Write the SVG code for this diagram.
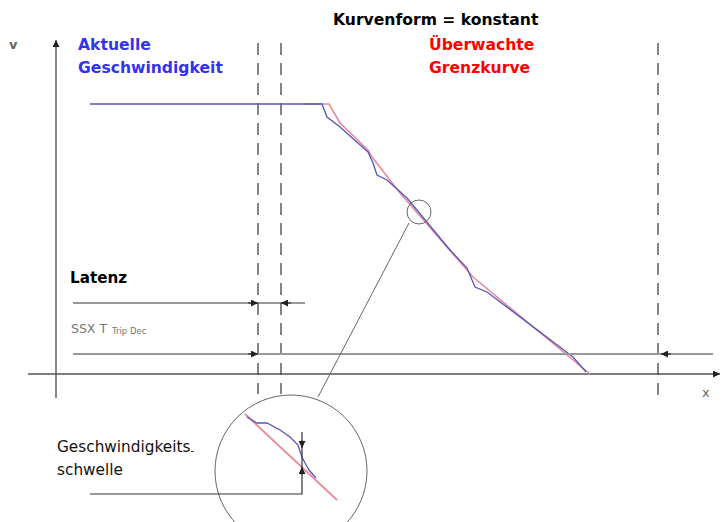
<svg xmlns="http://www.w3.org/2000/svg" width="721" height="522" viewBox="0 0 721 522">
<defs>
<style>
.t{font-family:"DejaVu Sans",Verdana,sans-serif}
.b{font-weight:bold;font-size:15.6px}
.ax{stroke:#555;stroke-width:1.4;fill:none}
.dash{stroke:#444;stroke-width:1.3;stroke-dasharray:12 8;fill:none}
.dim{stroke:#333;stroke-width:1.2;fill:none}
.blue{stroke:#5555bb;stroke-width:1.3;fill:none}
.red{stroke:#e88a9a;stroke-width:1.6;fill:none}
.thin{stroke:#666;stroke-width:1;fill:none}
</style>
<marker id="ah" viewBox="0 0 10 10" refX="10" refY="5" markerWidth="7" markerHeight="7" markerUnits="userSpaceOnUse" orient="auto-start-reverse">
<path d="M0,0 L10,5 L0,10 Z" fill="#222"/>
</marker>
</defs>
<rect width="721" height="522" fill="#fff"/>

<g id="axes">
<line class="ax" x1="56" y1="398" x2="56" y2="40" marker-end="url(#ah)"/>
<line class="ax" x1="28" y1="374" x2="720" y2="374" marker-end="url(#ah)"/>
<text class="t" x="9" y="49" font-size="13" font-weight="bold" fill="#666">v</text>
<text class="t" x="702" y="397" font-size="13" fill="#666">x</text>
</g>

<g id="dashed">
<line class="dash" x1="258" y1="43" x2="258" y2="394"/>
<line class="dash" x1="281" y1="43" x2="281" y2="394"/>
<line class="dash" x1="658" y1="43" x2="658" y2="396"/>
</g>

<g id="labels">
<text class="t b" x="333" y="25" fill="#000">Kurvenform = konstant</text>
<text class="t b" x="78" y="50" fill="#3333ee">Aktuelle</text>
<text class="t b" x="78" y="73" fill="#3333ee">Geschwindigkeit</text>
<text class="t b" x="429" y="50" fill="#ff0000">Überwachte</text>
<text class="t b" x="429" y="73" fill="#ff0000">Grenzkurve</text>
<text class="t" x="70" y="283" font-size="15.2" font-weight="bold" fill="#000">Latenz</text>
<text class="t" x="71" y="333" font-size="12.5" fill="#777">SSX T<tspan font-size="8.5" dx="5" dy="1">Trip Dec</tspan></text>
<text class="t" x="57" y="452" font-size="15.3" fill="#111">Geschwindigkeits<tspan dy="2" font-size="10">-</tspan></text>
<text class="t" x="57" y="475" font-size="15.3" fill="#111">schwelle</text>
</g>

<g id="curves">
<polyline class="red" points="305,104 329,104 340,123 368,150 372,157 400,193 473,277 590,374"/>
<polyline class="blue" points="90,104 322,104 327,117 340,127 368,152 373,163 377,175 387,180 407,198 450,250 467,268 475,287 487,292 573,357 586,372"/>
</g>

<g id="dimensions">
<line class="dim" x1="73" y1="303" x2="305" y2="303"/>
<line class="dim" x1="248" y1="303" x2="258" y2="303" marker-end="url(#ah)"/>
<line class="dim" x1="291" y1="303" x2="281" y2="303" marker-end="url(#ah)"/>
<line x1="73" y1="354" x2="713" y2="354" stroke="#999" stroke-width="2"/>
<line class="dim" x1="248" y1="354" x2="258" y2="354" marker-end="url(#ah)"/>
<line class="dim" x1="671" y1="354" x2="661" y2="354" marker-end="url(#ah)"/>
</g>

<g id="detail">
<circle cx="419" cy="212" r="12" class="thin"/>
<line class="thin" x1="409" y1="223" x2="318" y2="397"/>
<circle cx="291" cy="471" r="76" class="thin"/>
<line x1="245" y1="414" x2="337" y2="500" stroke="#e88a9a" stroke-width="1.8"/>
<polyline class="blue" points="247,417 257,423 267,423 280,430 290,437 298,445 302,457 305,463 309,470 316,478"/>
<polyline class="dim" points="90,494 302,494 302,432"/>
<line class="dim" x1="302" y1="440" x2="302" y2="448" marker-end="url(#ah)"/>
<line class="dim" x1="302" y1="475" x2="302" y2="467" marker-end="url(#ah)"/>
</g>
</svg>
